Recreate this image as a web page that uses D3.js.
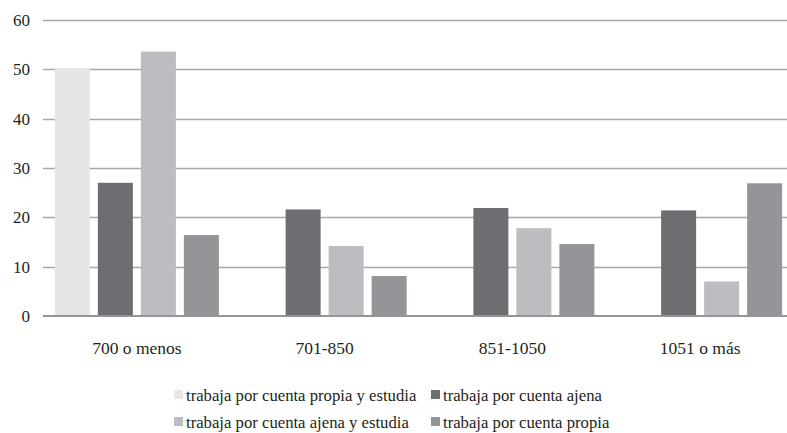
<!DOCTYPE html>
<html>
<head>
<meta charset="utf-8">
<script src="https://cdn.jsdelivr.net/npm/d3@7"></script>
<style>
  body { margin: 0; background: #fff; }
  svg { display: block; }
  text { font-family: "Liberation Serif", "DejaVu Serif", serif; fill: #231f20; }
</style>
</head>
<body>
<svg></svg>
<script>
const width = 787
const height = 433

// data
const categories = ["700 o menos", "701-850", "851-1050", "1051 o más"]
const seriesNames = [
  "trabaja por cuenta propia y estudia",
  "trabaja por cuenta ajena",
  "trabaja por cuenta ajena y estudia",
  "trabaja por cuenta propia"
]
const propiaEstudia = [50.2, 0, 0, 0]
const ajena = [27.0, 21.6, 21.9, 21.4]
const ajenaEstudia = [53.6, 14.2, 17.8, 7.0]
const propia = [16.4, 8.1, 14.6, 26.9]
const yTicks = [0, 10, 20, 30, 40, 50, 60]
const colors = ["#e6e6e7", "#6d6e71", "#bcbdc0", "#939598"]

const seriesValues = [propiaEstudia, ajena, ajenaEstudia, propia]

const svg = d3.select("svg")
  .attr("width", width)
  .attr("height", height)

const x0 = d3.scaleBand()
  .domain(categories)
  .range([43, 794])

const x1 = d3.scaleBand()
  .domain(d3.range(seriesNames.length))
  .range([0, x0.bandwidth()])
  .paddingInner(8 / 43)
  .paddingOuter(0.276)

const y = d3.scaleLinear()
  .domain([0, 60])
  .range([316, 20])

// gridlines
svg.append("g")
  .selectAll("line")
  .data(yTicks.filter(d => d > 0))
  .enter()
  .append("line")
  .attr("x1", 43)
  .attr("x2", width)
  .attr("y1", d => Math.round(y(d)) + 0.5)
  .attr("y2", d => Math.round(y(d)) + 0.5)
  .attr("stroke", "#a7a8ab")
  .attr("stroke-width", 1.5)

// y labels
svg.append("g")
  .selectAll("text")
  .data(yTicks)
  .enter()
  .append("text")
  .attr("x", 30)
  .attr("y", d => y(d))
  .attr("dy", "0.35em")
  .attr("text-anchor", "end")
  .style("font-size", "17px")
  .text(d => d)

// bars
const group = svg.append("g")
  .selectAll("g")
  .data(categories)
  .enter()
  .append("g")
  .attr("transform", d => "translate(" + x0(d) + ",0)")

group.selectAll("rect")
  .data((d, i) => seriesValues.map((s, j) => ({ series: j, value: s[i] })))
  .enter()
  .append("rect")
  .filter(d => d.value > 0)
  .attr("x", d => x1(d.series))
  .attr("width", x1.bandwidth())
  .attr("y", d => y(d.value))
  .attr("height", d => y(0) - y(d.value))
  .attr("fill", d => colors[d.series])

// baseline
svg.append("line")
  .attr("x1", 43)
  .attr("x2", width)
  .attr("y1", y(0))
  .attr("y2", y(0))
  .attr("stroke", "#939598")
  .attr("stroke-width", 2)

// category labels
svg.append("g")
  .selectAll("text")
  .data(categories)
  .enter()
  .append("text")
  .attr("x", d => x0(d) + x0.bandwidth() / 2)
  .attr("y", 348)
  .attr("dy", "0.35em")
  .attr("text-anchor", "middle")
  .style("font-size", "17.5px")
  .text(d => d)

// legend, two columns
const legendX = [174, 431]
const legendY = [395, 422]
const legend = svg.append("g")
  .selectAll("g")
  .data(seriesNames)
  .enter()
  .append("g")
  .attr("transform", (d, i) => "translate(" + legendX[i % 2] + "," + legendY[Math.floor(i / 2)] + ")")

legend.append("rect")
  .attr("x", 0)
  .attr("y", -5)
  .attr("width", 9)
  .attr("height", 9)
  .attr("fill", (d, i) => colors[i])

legend.append("text")
  .attr("x", 12)
  .attr("y", 0)
  .attr("dy", "0.35em")
  .style("font-size", "16.7px")
  .text(d => d)
</script>
</body>
</html>
